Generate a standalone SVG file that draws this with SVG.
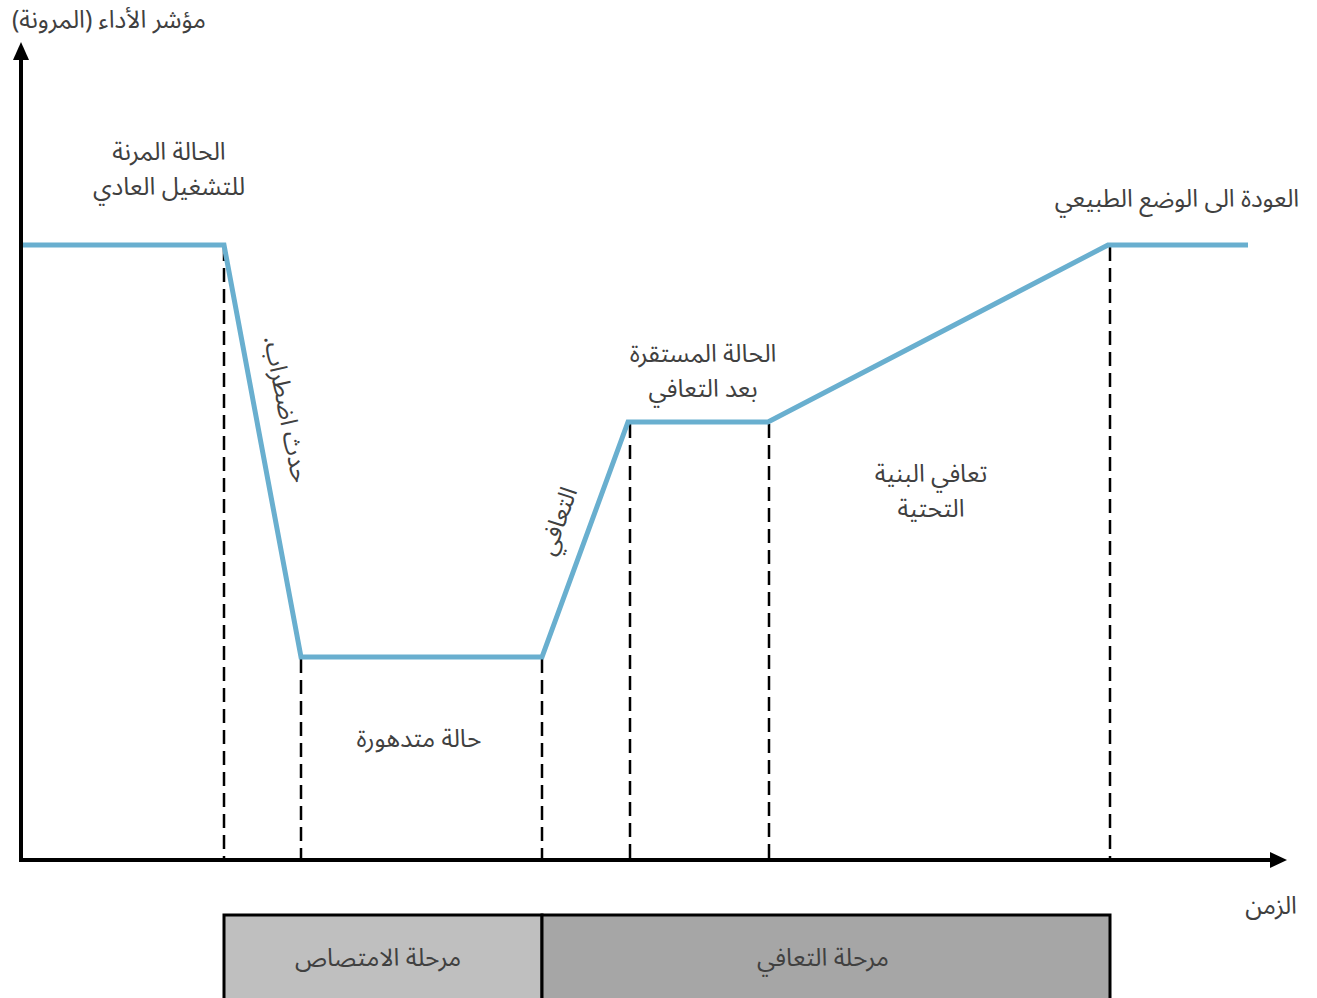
<svg xmlns="http://www.w3.org/2000/svg" width="1317" height="998" viewBox="0 0 1317 998">
<style>
.t{font-family:"Noto Sans Arabic","Noto Sans","DejaVu Sans",sans-serif;font-size:24.5px;fill:#404040;text-anchor:middle;}
.dash{stroke:#000;stroke-width:2.5;stroke-dasharray:14 7;fill:none;}
.axis{stroke:#000;stroke-width:4;fill:none;}
.curve{stroke:#69AFCF;stroke-width:5;fill:none;stroke-linejoin:miter;}
.bar{stroke:#000;stroke-width:3;}
</style>
<rect width="1317" height="998" fill="#fff"/>
<g id="connectors">
<line class="dash" x1="224" y1="247" x2="224" y2="860"/>
<line class="dash" x1="301" y1="659" x2="301" y2="860"/>
<line class="dash" x1="542" y1="659" x2="542" y2="860"/>
<line class="dash" x1="630" y1="424" x2="630" y2="860"/>
<line class="dash" x1="769" y1="424" x2="769" y2="860"/>
<line class="dash" x1="1110" y1="247" x2="1110" y2="860"/>
<polyline class="curve" points="21,245 224,245 301,657 542,657 628,422 768,422 1108,245 1248,245"/>
<path class="axis" d="M21,860 L21,58"/>
<path d="M13,60 L21,42 L29,60 Z" fill="#000"/>
<path class="axis" d="M19,860 L1270,860"/>
<path d="M1270,852 L1287,860 L1270,868 Z" fill="#000"/>
</g>
<g id="y-label"><text class="t" x="109" y="28" direction="rtl">مؤشر الأداء (المرونة)</text></g>
<g id="x-label"><text class="t" x="1271" y="914">الزمن</text></g>
<g id="normal"><text class="t" x="169" y="160">الحالة المرنة</text><text class="t" x="169" y="195">للتشغيل العادي</text></g>
<g id="return"><text class="t" x="1177" y="207">العودة الى الوضع الطبيعي</text></g>
<g id="stable"><text class="t" x="703" y="362">الحالة المستقرة</text><text class="t" x="703" y="397">بعد التعافي</text></g>
<g id="infra"><text class="t" x="931" y="482">تعافي البنية</text><text class="t" x="931" y="517">التحتية</text></g>
<g id="degraded"><text class="t" x="419" y="747">حالة متدهورة</text></g>
<g id="disruption"><text class="t" direction="rtl" transform="translate(286,409) rotate(79)" x="0" y="8">حدث اضطراب.</text></g>
<g id="recovery"><text class="t" transform="translate(558,521) rotate(-70)" x="0" y="8">التعافي</text></g>
<g id="absorption-phase"><rect class="bar" x="224" y="915" width="318" height="90" fill="#BFBFBF"/><text class="t" x="378" y="966">مرحلة الامتصاص</text></g>
<g id="recovery-phase"><rect class="bar" x="542" y="915" width="568" height="90" fill="#A6A6A6"/><text class="t" x="823" y="966">مرحلة التعافي</text></g>
</svg>
